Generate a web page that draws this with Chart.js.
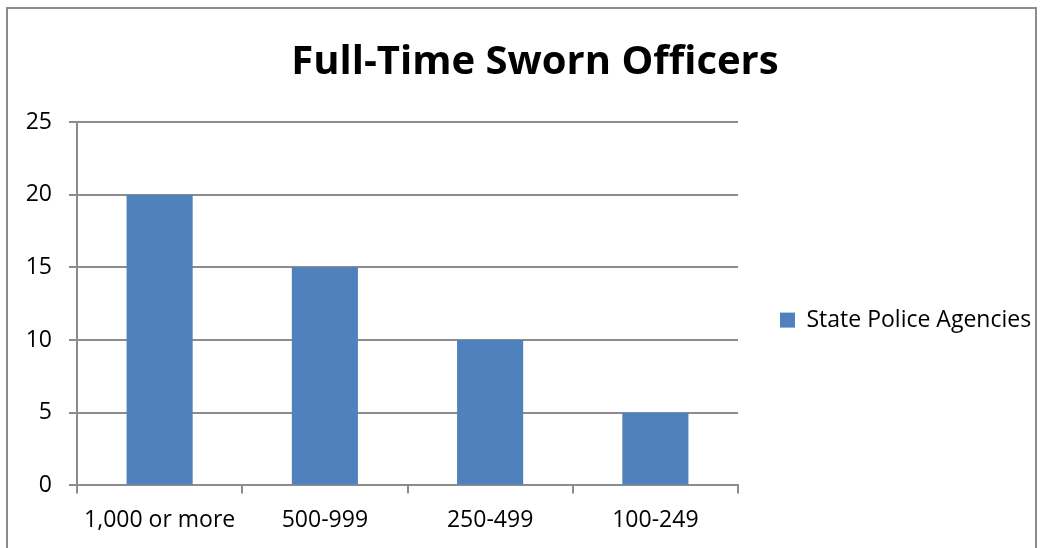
<!DOCTYPE html>
<html>
<head>
<meta charset="utf-8">
<script src="https://cdn.jsdelivr.net/npm/chart.js@4"></script>
<style>
  html, body { margin: 0; padding: 0; background: #fff; overflow: hidden; }
  #wrap { position: relative; width: 1050px; height: 548px; }
  #frame { position: absolute; left: 6px; top: 7px; width: 1031px; height: 600px; border: 2px solid #8c8c8c; box-sizing: border-box; pointer-events: none; }
  canvas { position: absolute; left: 0; top: 0; }
</style>
</head>
<body>
<div id="wrap">
  <canvas id="c" width="1050" height="548"></canvas>
  <div id="frame"></div>
</div>
<script>
const categories = ["1,000 or more", "500-999", "250-499", "100-249"];
const seriesName = "State Police Agencies";
const seriesValues = [20, 15, 10, 5];
const yTicks = [0, 5, 10, 15, 20, 25];

const FONT = "'Open Sans', sans-serif";
const GRID = "#8c8c8c";

new Chart(document.getElementById("c"), {
  type: "bar",
  data: {
    labels: categories,
    datasets: [{
      label: seriesName,
      data: seriesValues,
      backgroundColor: "#4f81bd",
      borderWidth: 0,
      categoryPercentage: 1.0,
      barPercentage: 0.4
    }]
  },
  options: {
    responsive: false,
    animation: false,
    devicePixelRatio: 1,
    layout: { padding: { left: 20, right: 0, top: 0, bottom: 1 } },
    plugins: {
      title: {
        display: true,
        text: "Full-Time Sworn Officers",
        color: "#000",
        font: { family: FONT, size: 40, weight: "bold" },
        padding: { top: 39, bottom: 35 }
      },
      legend: {
        position: "right",
        align: "center",
        maxWidth: 312,
        title: { display: true, text: " ", font: { size: 1 }, padding: { top: 0, bottom: 92 } },
        labels: {
          color: "#000",
          font: { family: FONT, size: 23 },
          boxWidth: 15,
          boxHeight: 15,
          padding: 42,
          generateLabels: (chart) =>
            Chart.defaults.plugins.legend.labels.generateLabels(chart)
              .map(l => Object.assign({}, l, { text: l.text + "\u2002" }))
        }
      },
      tooltip: { enabled: false }
    },
    scales: {
      x: {
        offset: true,
        grid: {
          display: true,
          drawOnChartArea: false,
          drawTicks: true,
          tickLength: 8,
          color: GRID,
          lineWidth: 2,
          offset: true
        },
        border: { display: true, color: GRID, width: 2 },
        ticks: { color: "#000", font: { family: FONT, size: 23 }, padding: 13, maxRotation: 0 }
      },
      y: {
        min: 0,
        max: 25,
        afterBuildTicks: (s) => { s.ticks = yTicks.map(v => ({ value: v })); },
        afterFit: (s) => { s.width = 57; },
        grid: {
          color: GRID,
          lineWidth: 2,
          drawTicks: true,
          tickLength: 8
        },
        border: { display: true, color: GRID, width: 2 },
        ticks: { color: "#000", font: { family: FONT, size: 23 }, padding: 17 }
      }
    }
  }
});
</script>
</body>
</html>
